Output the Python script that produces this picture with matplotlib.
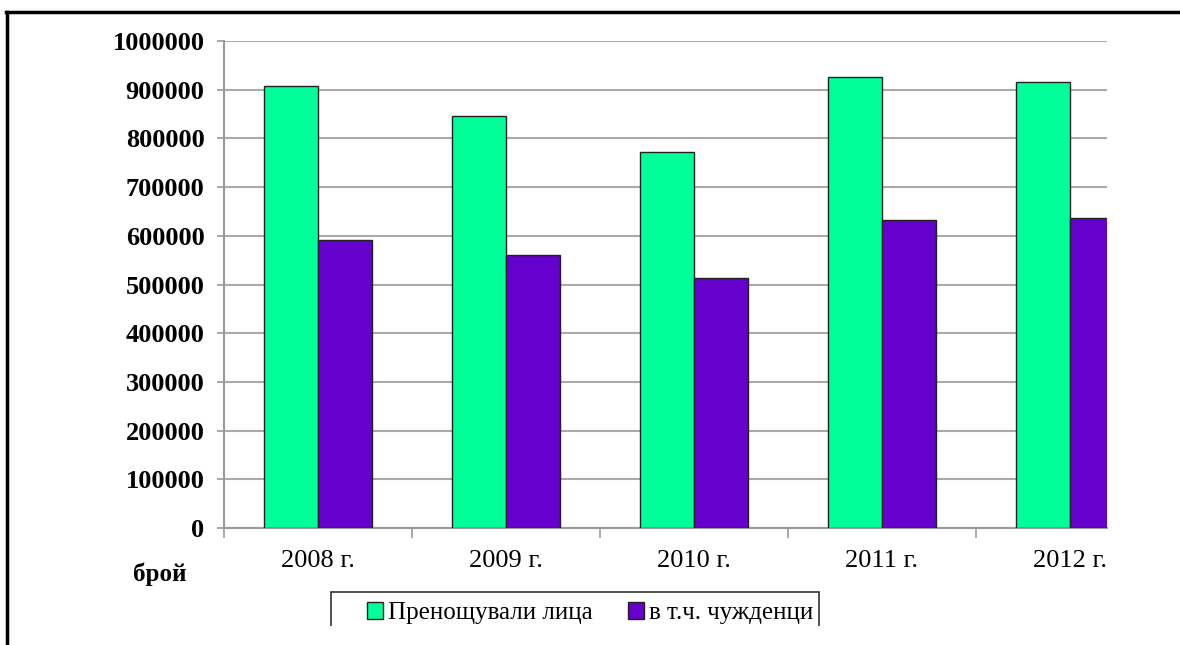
import numpy as np
import matplotlib
matplotlib.use("Agg")
import matplotlib.pyplot as plt
from matplotlib.lines import Line2D
from matplotlib.patches import Rectangle

years = ["2008 г.", "2009 г.", "2010 г.", "2011 г.", "2012 г."]
overnight = [907000, 845000, 772000, 925500, 916000]
foreigners = [591500, 560500, 513500, 633000, 636000]
series_names = ["Пренощували лица", "в т.ч. чужденци"]

plt.rcParams['font.family'] = ['Liberation Serif', 'DejaVu Serif']

W, H = 1180, 645
fig = plt.figure(figsize=(W / 100, H / 100), dpi=100)
ax = fig.add_axes([224 / W, 1 - 528 / H, (1107 - 224) / W, (528 - 41) / H])

x = np.arange(len(years))
bw = 0.287
ax.bar(x - bw / 2, overnight, bw, color="#00ff99", edgecolor="#222222", linewidth=1.0,
       label=series_names[0], zorder=3)
ax.bar(x + bw / 2, foreigners, bw, color="#6600cc", edgecolor="#222222", linewidth=1.0,
       label=series_names[1], zorder=3)

ax.set_yticks(np.arange(0, 1000001, 100000))
ax.set_yticklabels([str(v) for v in range(0, 1000001, 100000)], fontweight="bold", fontsize=19)
ax.set_xticks(x)
ax.set_xticklabels(years, fontsize=19)
ax.set_xticks(np.arange(-0.5, 4.6, 1.0), minor=True)
# right edge cuts the last group, as in the source
ax.set_xlim(-0.5, 4.197)
ax.set_ylim(0, 1000000)
ax.tick_params(axis="x", which="major", length=0, pad=16)
ax.tick_params(axis="x", which="minor", length=7, width=1.2, color="#999999")
ax.tick_params(axis="y", length=5, width=1.2, color="#999999", pad=9)

ax.grid(axis="y", color="#aaaaaa", linewidth=1.5, zorder=0)
ax.set_axisbelow(True)
for s in ["top", "right"]:
    ax.spines[s].set_visible(False)
for s in ["left", "bottom"]:
    ax.spines[s].set_color("#999999")
    ax.spines[s].set_linewidth(1.5)

fig.text(160 / W, 1 - 574 / H, "брой", ha="center", va="center", fontsize=18, fontweight="bold")

# legend content without frame, frame drawn separately (wider left margin)
leg = fig.legend(loc="upper left", bbox_to_anchor=(367 / W, 1 - 602 / H), ncol=2,
                 fontsize=18, frameon=False,
                 handlelength=0.65, handleheight=0.65, handletextpad=0.2, columnspacing=1.4,
                 borderpad=0, borderaxespad=0)
fig.add_artist(Rectangle((331 / W, 0), (819 - 331) / W, 1 - 592 / H, transform=fig.transFigure,
                         facecolor="none", edgecolor="#333333", linewidth=1.2, zorder=6))

# the source image is cut off below the legend
fig.add_artist(Rectangle((10 / W, 0), 1, 19 / H, transform=fig.transFigure,
                         facecolor="white", edgecolor="none", zorder=20))
fig.add_artist(Line2D([6 / W, 1], [1 - 12 / H, 1 - 12 / H], transform=fig.transFigure,
                      color="black", linewidth=2.5, zorder=21))
fig.add_artist(Line2D([7 / W, 7 / W], [0, 1 - 12 / H], transform=fig.transFigure,
                      color="black", linewidth=2.5, zorder=21))

fig.savefig("out.png", dpi=100)
